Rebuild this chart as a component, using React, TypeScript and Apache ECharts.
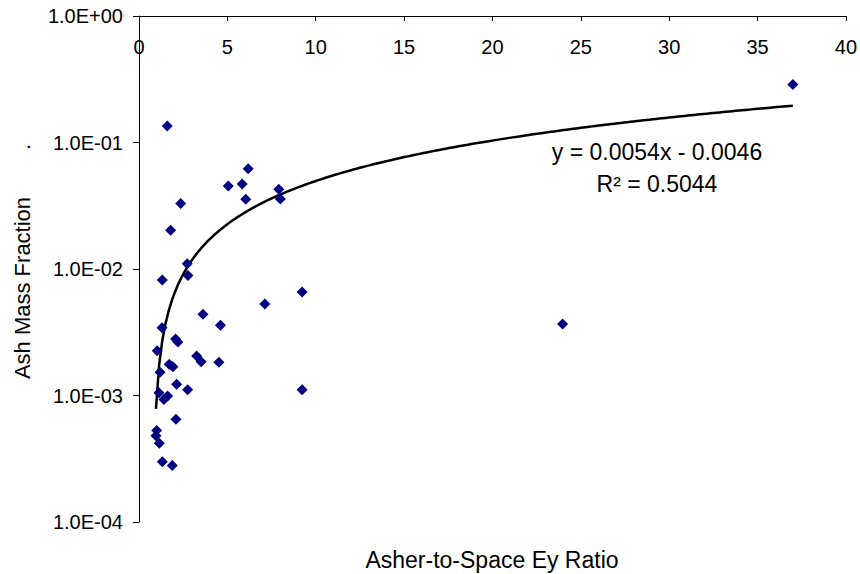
import React, { useEffect, useRef } from "react";
import * as echarts from "echarts";

const xValues = [1.6, 6.18, 5.05, 5.84, 6.04, 7.91, 8.0, 2.36, 1.79, 2.73, 2.77, 1.32, 9.23, 7.12, 3.62, 4.61, 1.3, 2.07, 2.2, 1.03, 3.26, 3.52, 4.52, 1.71, 1.92, 1.19, 2.13, 2.75, 9.23, 1.13, 1.62, 1.41, 2.09, 1.0, 0.96, 1.15, 1.32, 1.88, 23.97, 37.0];
const yValues = [0.135, 0.062, 0.0453, 0.047, 0.0356, 0.0427, 0.0357, 0.033, 0.0202, 0.011, 0.0089, 0.0082, 0.00658, 0.00529, 0.00438, 0.00359, 0.00344, 0.0028, 0.00265, 0.00226, 0.00205, 0.00185, 0.00183, 0.00177, 0.00169, 0.00153, 0.00123, 0.00111, 0.00111, 0.00105, 0.00099, 0.00093, 0.00065, 0.00053, 0.00048, 0.00042, 0.0003, 0.00028, 0.00367, 0.288];

const xTicks = [0, 5, 10, 15, 20, 25, 30, 35, 40];
const yTickLabels = ["1.0E-04", "1.0E-03", "1.0E-02", "1.0E-01", "1.0E+00"];

const trendSlope = 0.0054;
const trendIntercept = -0.0044;
const trendXStart = 0.96;
const trendXEnd = 37.0;
const equationText = "y = 0.0054x - 0.0046";
const r2Text = "R² = 0.5044";

export default function App() {
  const ref = useRef<HTMLDivElement>(null);
  useEffect(() => {
    if (!ref.current) return;
    const chart = echarts.init(ref.current, null, { renderer: "svg" });
    const scatterData = xValues.map((x, i) => [x, yValues[i]]);
    const trend: number[][] = [];
    const steps = 200;
    for (let i = 0; i <= steps; i++) {
      const x = trendXStart + ((trendXEnd - trendXStart) * i) / steps;
      trend.push([x, trendSlope * x + trendIntercept]);
    }
    const font = "Liberation Sans, Arial, sans-serif";
    chart.setOption({
      animation: false,
      backgroundColor: "#ffffff",
      grid: { left: 139, right: 14, top: 16, bottom: 52, containLabel: false },
      xAxis: {
        type: "value",
        position: "top",
        min: xTicks[0],
        max: xTicks[xTicks.length - 1],
        interval: 5,
        axisLine: { show: true, lineStyle: { color: "#000", width: 1 } },
        axisTick: { show: true, inside: true, length: 5, lineStyle: { color: "#000" } },
        axisLabel: {
          inside: true,
          margin: 21,
          color: "#000",
          fontSize: 20,
          fontFamily: font,
          formatter: (v: number) => (xTicks.includes(v) ? String(v) : ""),
        },
        splitLine: { show: false },
      },
      yAxis: {
        type: "log",
        logBase: 10,
        min: 0.0001,
        max: 1,
        axisLine: { show: true, lineStyle: { color: "#000", width: 1 } },
        axisTick: { show: true, inside: false, length: 6, lineStyle: { color: "#000" } },
        minorTick: { show: false },
        axisLabel: {
          margin: 16,
          color: "#000",
          fontSize: 20,
          fontFamily: font,
          formatter: (v: number) => {
            const e = Math.round(Math.log10(v));
            return yTickLabels[e + 4] ?? "";
          },
        },
        splitLine: { show: false },
      },
      series: [
        {
          type: "line",
          data: trend,
          showSymbol: false,
          symbol: "none",
          smooth: false,
          lineStyle: { color: "#000", width: 2.5 },
          z: 2,
        },
        {
          type: "scatter",
          data: scatterData,
          symbol: "diamond",
          symbolSize: 11,
          itemStyle: { color: "#000080", opacity: 1 },
          z: 3,
        },
      ],
      graphic: [
        {
          type: "text",
          x: 657,
          y: 152,
          style: { text: equationText, fill: "#000", font: `23px ${font}`, align: "center", verticalAlign: "middle" },
        },
        {
          type: "text",
          x: 657,
          y: 184,
          style: { text: r2Text, fill: "#000", font: `23px ${font}`, align: "center", verticalAlign: "middle" },
        },
        {
          type: "text",
          x: 492,
          y: 560,
          style: { text: "Asher-to-Space Ey Ratio", fill: "#000", font: `23px ${font}`, align: "center", verticalAlign: "middle" },
        },
        {
          type: "text",
          x: 22,
          y: 288,
          rotation: Math.PI / 2,
          style: { text: "Ash Mass Fraction", fill: "#000", font: `22px ${font}`, align: "center", verticalAlign: "middle" },
        },
        {
          type: "text",
          x: 22,
          y: 147,
          rotation: Math.PI / 2,
          style: { text: ".", fill: "#000", font: `22px ${font}`, align: "center", verticalAlign: "middle" },
        },
      ],
    });
    return () => chart.dispose();
  }, []);
  return <div ref={ref} style={{ width: 860, height: 574, position: "absolute", left: 0, top: 0 }} />;
}
